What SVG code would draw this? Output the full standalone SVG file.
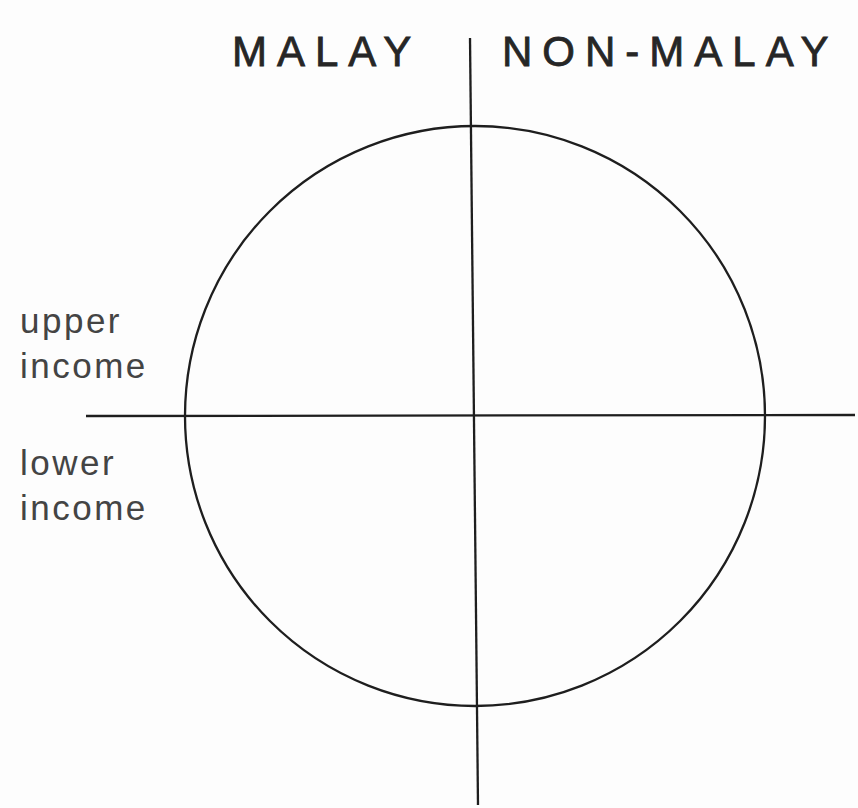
<svg xmlns="http://www.w3.org/2000/svg" width="858" height="808" viewBox="0 0 858 808">
<style>
.ln{stroke:#1e1e1e;stroke-width:2.3;fill:none}
.hd{font-family:"Liberation Sans",Arial,sans-serif;font-size:42px;letter-spacing:10px;fill:#262626;stroke:#262626;stroke-width:0.8}
.lb{font-family:"Liberation Sans",Arial,sans-serif;font-size:35px;letter-spacing:2.5px;fill:#444}
</style>
<rect width="858" height="808" fill="#fdfdfd"/>
<g id="labels">
<text class="hd" x="232" y="66">MALAY</text>
<text class="hd" x="502" y="66">NON-MALAY</text>
<text class="lb" x="20" y="333">upper</text>
<text class="lb" x="20" y="378">income</text>
<text class="lb" x="20" y="475">lower</text>
<text class="lb" x="20" y="520">income</text>
</g>
<g id="circle"><circle class="ln" cx="475" cy="416" r="290"/></g>
<g id="axes">
<line class="ln" x1="470" y1="38" x2="478" y2="805"/>
<line class="ln" x1="86" y1="416" x2="855" y2="415"/>
</g>
</svg>
